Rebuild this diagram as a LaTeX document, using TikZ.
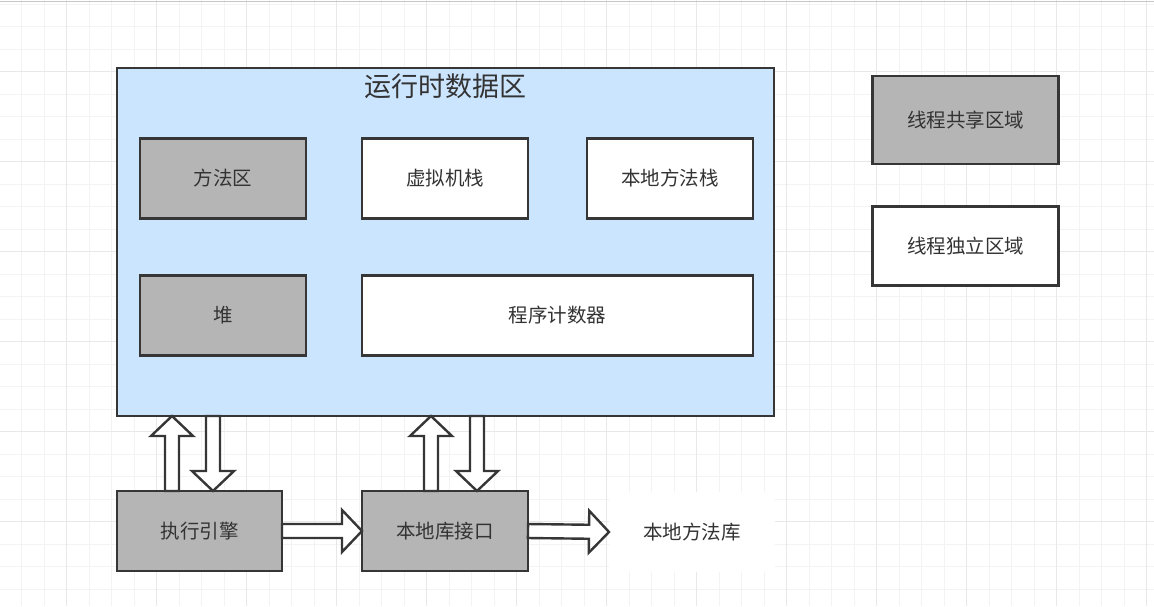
\documentclass[tikz,border=0pt]{standalone}
\usepackage{fontspec}
\setmainfont{Noto Sans CJK SC}
\usetikzlibrary{calc}
\definecolor{areablue}{HTML}{CCE5FF}
\definecolor{sharedgray}{HTML}{B5B5B5}
\definecolor{edgegray}{HTML}{363636}
\definecolor{textgray}{HTML}{333333}
\definecolor{minorgrid}{HTML}{F3F3F3}
\definecolor{majorgrid}{HTML}{E8E8E8}
\tikzset{
  area/.style={draw=edgegray,line width=2.4pt,fill=white,minimum width=166pt,
    minimum height=80pt,inner sep=0pt,outer sep=0pt,text=textgray,
    font=\fontsize{19.5}{22}\selectfont},
  shared/.style={area,fill=sharedgray},
  blockline/.style={draw=edgegray,line width=2.4pt,fill=white,line join=miter},
}
% hollow block arrow from #1 to the tip #2
\newcommand\blockarrow[2]{%
  \coordinate (ba-h) at ($(#2)!20pt!(#1)$);
  \draw[blockline] ($(#1)!7pt!90:(#2)$) -- ($(ba-h)!7pt!90:(#2)$)
    -- ($(ba-h)!21pt!90:(#2)$) -- (#2) -- ($(ba-h)!21pt!-90:(#2)$)
    -- ($(ba-h)!7pt!-90:(#2)$) -- ($(#1)!7pt!-90:(#2)$) -- cycle;}
\begin{document}
\begin{tikzpicture}[x=1pt,y=-1pt]
\useasboundingbox (0,0) rectangle (1154,606);
% background grid
\foreach \gx in {0,...,50} \draw[minorgrid,line width=1.2pt] (21.7+22.5*\gx,0) -- (21.7+22.5*\gx,606);
\foreach \gy in {0,...,26} \draw[minorgrid,line width=1.2pt] (0,4.2+22.5*\gy) -- (1154,4.2+22.5*\gy);
\foreach \gx in {0,...,12} \draw[majorgrid,line width=1.2pt] (66.7+90*\gx,0) -- (66.7+90*\gx,606);
\foreach \gy in {0,...,5} \draw[majorgrid,line width=1.2pt] (0,71.7+90*\gy) -- (1154,71.7+90*\gy);
\draw[gray!45,line width=1.5pt] (0,1.5) -- (1154,1.5);

% runtime data area
\node[area,fill=areablue,minimum width=657pt,minimum height=348pt] (rt) at (445.5,242) {};
\node[text=textgray,font=\fontsize{27}{30}\selectfont] (title) at (445,86) {运行时数据区};
\node[shared] (method) at (223,178.5) {方法区};
\node[area] (vmstack) at (445,178.5) {虚拟机栈};
\node[area] (nstack) at (670,178.5) {本地方法栈};
\node[shared] (heap) at (223,315.5) {堆};
\node[area,minimum width=391pt] (pc) at (557.5,315.5) {程序计数器};

% legend
\node[shared,minimum width=186pt,minimum height=88pt] (sharedkey) at (965.5,120) {线程共享区域};
\node[area,minimum width=186pt,minimum height=79pt] (ownkey) at (965.5,246) {线程独立区域};

% engine and native interface
\node[shared,minimum width=165pt] (exec) at (199.5,531) {执行引擎};
\node[shared] (jni) at (445,531) {本地库接口};
\node[area,draw=none] (nlib) at (692,532) {本地方法库};

\coordinate (exec-up) at ($(exec.north west)+(55,0)$);
\coordinate (exec-down) at ($(exec.north west)+(96,0)$);
\coordinate (jni-up) at ($(jni.north west)+(69,0)$);
\coordinate (jni-down) at ($(jni.north west)+(115,0)$);
\blockarrow{exec-up}{exec-up |- rt.south}
\blockarrow{exec-down |- rt.south}{exec-down}
\blockarrow{jni-up}{jni-up |- rt.south}
\blockarrow{jni-down |- rt.south}{jni-down}
\blockarrow{exec.east}{jni.west}
\blockarrow{jni.east}{nlib.west}
\end{tikzpicture}
\end{document}
